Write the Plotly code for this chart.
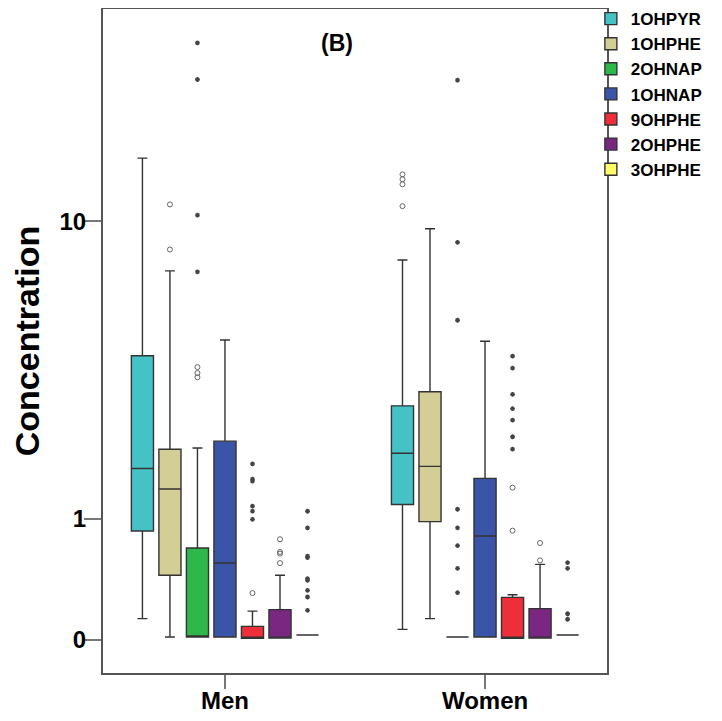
import numpy as np
import plotly.graph_objects as go

GROUPS = ["Men", "Women"]
SERIES = ["1OHPYR", "1OHPHE", "2OHNAP", "1OHNAP", "9OHPHE", "2OHPHE", "3OHPHE"]
COLORS = ["#44C2C5", "#D3CD96", "#2EB84C", "#3A55A7", "#EE2F3A", "#7A2782", "#FEFB6A"]

# box statistics per series: [Men, Women]  (concentration units)
LOWER = [[0.128, 0.061], [0.015, 0.128], [0.015, 0.015], [0.015, 0.015],
         [0.008, 0.008], [0.009, 0.009], [0.027, 0.027]]
Q1 = [[0.865, 1.17], [0.446, 0.967], [0.015, 0.015], [0.015, 0.015],
      [0.008, 0.008], [0.009, 0.009], [0.027, 0.027]]
MEDIAN = [[1.667, 1.91], [1.372, 1.70], [0.015, 0.015], [0.552, 0.811],
          [0.010, 0.010], [0.010, 0.010], [0.027, 0.027]]
Q3 = [[4.09, 2.82], [1.978, 3.14], [0.691, 0.015], [2.12, 1.52],
      [0.079, 0.274], [0.188, 0.195], [0.027, 0.027]]
UPPER = [[14.8, 7.81], [7.28, 9.54], [2.0, 0.015], [4.57, 4.53],
         [0.178, 0.294], [0.446, 0.54], [0.027, 0.027]]

# outliers (circles) and extremes (asterisks) per series: [Men, Women]
CIRCLES = [
    [[], [13.4, 13.0, 12.6, 11.0]],
    [[11.12, 8.36], []],
    [[3.77, 3.61, 3.50], []],
    [[], []],
    [[0.306], [1.39, 0.868]],
    [[0.778, 0.653, 0.637, 0.551], [0.74, 0.575]],
    [[], []],
]
STARS = [
    [[], []],
    [[], []],
    [[29.6, 23.8, 10.4, 7.23], [23.7, 8.75, 5.24, 1.112, 0.897, 0.715, 0.505, 0.309]],
    [[], []],
    [[1.74, 1.51, 1.48, 1.15, 1.09, 0.993], [4.08, 3.74, 3.08, 2.76, 2.52, 2.20, 1.98]],
    [[], []],
    [[1.088, 0.898, 0.615, 0.600, 0.419, 0.405, 0.327, 0.277, 0.183], [0.555, 0.505, 0.16, 0.124]],
]

Y_TICKS = [0, 1, 10]


def tr(v):
    return np.log10(np.asarray(v, dtype=float) + 1.0)


STEP = 0.1058
BOXW = 0.085
n = len(SERIES)

fig = go.Figure()
for i, name in enumerate(SERIES):
    xs = [g + (i - (n - 1) / 2) * STEP for g in range(len(GROUPS))]
    fig.add_trace(go.Box(
        name=name, x=xs,
        lowerfence=tr(LOWER[i]), q1=tr(Q1[i]), median=tr(MEDIAN[i]),
        q3=tr(Q3[i]), upperfence=tr(UPPER[i]),
        width=BOXW, whiskerwidth=0.45,
        fillcolor=COLORS[i], line=dict(color="#333333", width=1.4),
        boxpoints=False, hoverinfo="skip",
    ))
    for g in range(len(GROUPS)):
        xc = g + (i - (n - 1) / 2) * STEP
        if CIRCLES[i][g]:
            fig.add_trace(go.Scatter(
                x=[xc] * len(CIRCLES[i][g]), y=tr(CIRCLES[i][g]), mode="markers",
                marker=dict(symbol="circle-open", size=5, color="#666", line=dict(width=1)),
                showlegend=False, hoverinfo="skip"))
        if STARS[i][g]:
            fig.add_trace(go.Scatter(
                x=[xc] * len(STARS[i][g]), y=tr(STARS[i][g]), mode="markers",
                marker=dict(symbol="asterisk-open", size=4, color="#444", line=dict(width=1.3)),
                showlegend=False, hoverinfo="skip"))

fig.add_annotation(text="<b>(B)</b>", x=0.464, y=0.949, xref="paper", yref="paper",
                   xanchor="center", yanchor="middle",
                   showarrow=False, font=dict(size=23, color="black"))

fig.update_layout(
    width=714, height=713,
    margin=dict(l=95, r=115, t=1, b=48, autoexpand=False),
    paper_bgcolor="white", plot_bgcolor="white",
    font=dict(family="Liberation Sans, Arial, sans-serif", color="black"),
    showlegend=True,
    legend=dict(x=0.968, y=1.012, xanchor="left", yanchor="top",
                font=dict(size=17, family="Liberation Sans, Arial, sans-serif", color="black", weight="bold"),
                tracegroupgap=0, itemwidth=30, bgcolor="rgba(0,0,0,0)",
                traceorder="normal"),
    xaxis=dict(range=[-0.469, 1.469], tickvals=list(range(len(GROUPS))), ticktext=GROUPS,
               showgrid=False, zeroline=False, showline=True, mirror=True,
               linecolor="#555", linewidth=2, ticks="outside", ticklen=14,
               tickcolor="#777", tickwidth=1.5, automargin=False, ticklabelstandoff=-9,
               tickfont=dict(size=24, weight="bold")),
    yaxis=dict(range=[-0.083, 1.570], tickvals=tr(Y_TICKS), ticktext=[str(t) for t in Y_TICKS],
               showgrid=False, zeroline=False, showline=True, mirror=True,
               linecolor="#555", linewidth=2, ticks="outside", ticklen=17,
               tickcolor="#777", tickwidth=1.5, automargin=False, ticklabelstandoff=-7,
               tickfont=dict(size=24, weight="bold"),
               title=dict(text="<b>Concentration</b>", font=dict(size=34), standoff=10)),
)

fig.write_html("out.html")
